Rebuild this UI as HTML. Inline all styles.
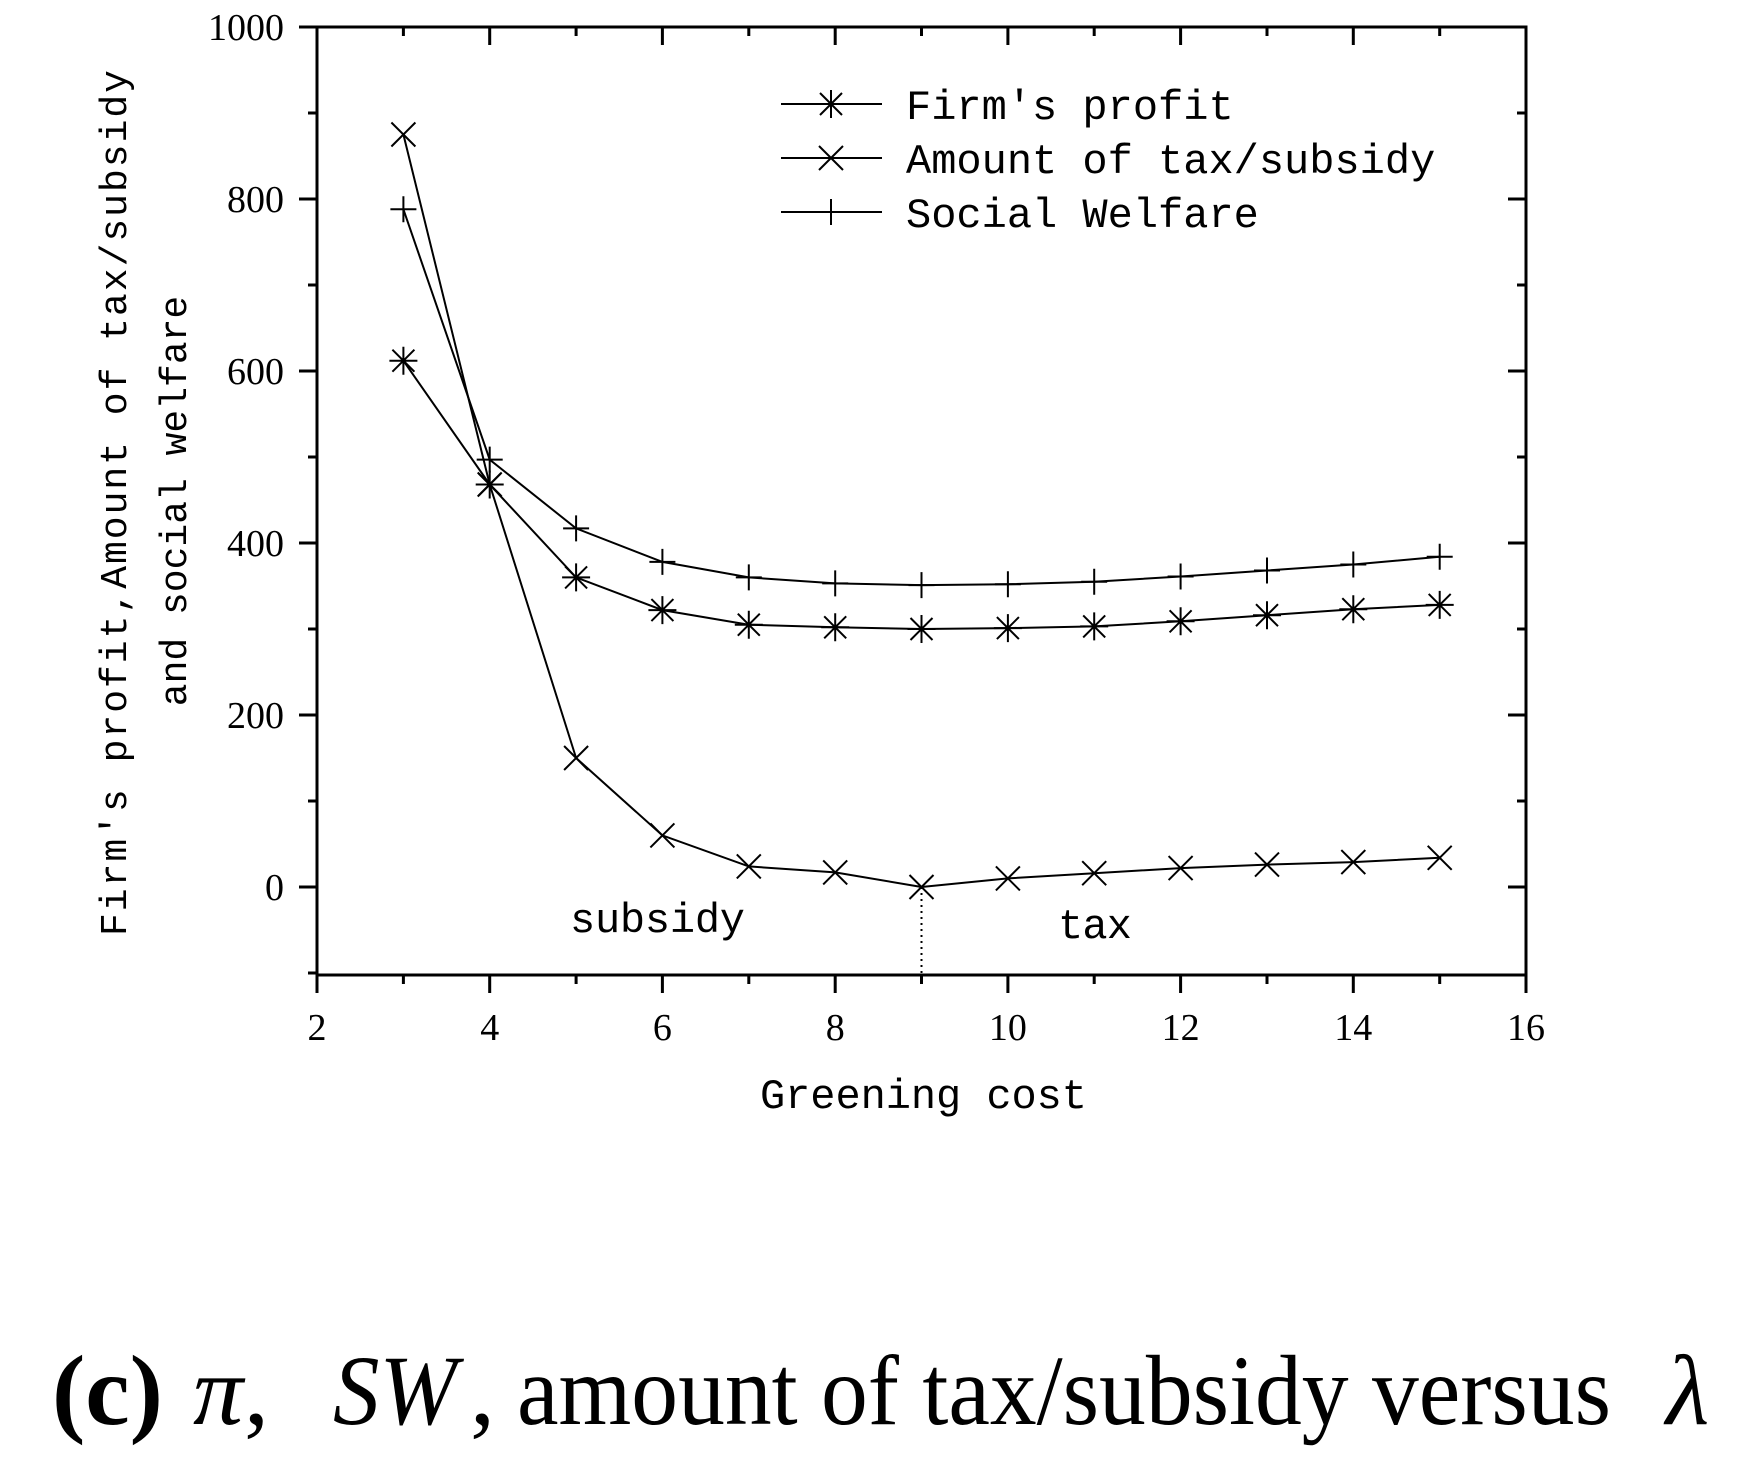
<!DOCTYPE html>
<html><head><meta charset="utf-8"><style>
html,body{margin:0;padding:0;background:#fff;}
svg{display:block;}
</style></head><body>
<svg width="1749" height="1465" viewBox="0 0 1749 1465" xmlns="http://www.w3.org/2000/svg">
<defs>
<g id="mx"><path d="M-12,-12L12,12M-12,12L12,-12" stroke="#000" stroke-width="2" fill="none"/></g>
<g id="mp"><path d="M-13,0H13M0,-13V13" stroke="#000" stroke-width="2" fill="none"/></g>
<g id="ma"><path d="M-11,-11L11,11M-11,11L11,-11M-14,0H14M0,-14V14" stroke="#000" stroke-width="2" fill="none"/></g>
</defs>
<g stroke="#000" stroke-width="3" fill="none">
<rect x="317" y="27" width="1209" height="948"/>
<path d="M317,975v18M489.7,975v18M662.4,975v18M835.2,975v18M1007.9,975v18M1180.6,975v18M1353.3,975v18M1526,975v18"/>
<path d="M403.4,975v9M576.1,975v9M748.8,975v9M921.5,975v9M1094.2,975v9M1267,975v9M1439.7,975v9"/>
<path d="M489.7,27v18M662.4,27v18M835.2,27v18M1007.9,27v18M1180.6,27v18M1353.3,27v18"/>
<path d="M403.4,27v9M576.1,27v9M748.8,27v9M921.5,27v9M1094.2,27v9M1267,27v9M1439.7,27v9"/>
<path d="M317,27h-18M317,199h-18M317,371h-18M317,543h-18M317,715h-18M317,887h-18"/>
<path d="M317,113h-9M317,285h-9M317,457h-9M317,629h-9M317,801h-9M317,973h-9"/>
<path d="M1526,199h-18M1526,371h-18M1526,543h-18M1526,715h-18M1526,887h-18"/>
<path d="M1526,113h-9M1526,285h-9M1526,457h-9M1526,629h-9M1526,801h-9"/>
</g>
<g font-family="Liberation Serif, serif" font-size="38" fill="#000">
<g text-anchor="middle">
<text x="317" y="1040">2</text><text x="489.7" y="1040">4</text><text x="662.4" y="1040">6</text><text x="835.2" y="1040">8</text><text x="1007.9" y="1040">10</text><text x="1180.6" y="1040">12</text><text x="1353.3" y="1040">14</text><text x="1526" y="1040">16</text>
</g>
<g text-anchor="end">
<text x="284" y="40">1000</text><text x="284" y="212">800</text><text x="284" y="384">600</text><text x="284" y="556">400</text><text x="284" y="728">200</text><text x="284" y="900">0</text>
</g>
</g>
<g fill="none" stroke="#000" stroke-width="2">
<polyline points="403.4,360.7 489.7,484.5 576.1,577.4 662.4,610.1 748.8,624.7 835.2,627.3 921.5,629 1007.9,628.1 1094.2,626.4 1180.6,621.3 1267,615.2 1353.3,609.2 1439.7,604.9"/>
<polyline points="403.4,134.5 489.7,484.5 576.1,758 662.4,835.4 748.8,866.4 835.2,872.4 921.5,887 1007.9,878.4 1094.2,873.2 1180.6,868.1 1267,864.6 1353.3,862.1 1439.7,857.8"/>
<polyline points="403.4,209.3 489.7,459.6 576.1,528.4 662.4,561.9 748.8,577.4 835.2,583.4 921.5,585.1 1007.9,584.3 1094.2,581.7 1180.6,576.5 1267,570.5 1353.3,564.5 1439.7,556.8"/>
<path d="M921.5,887V975" stroke-dasharray="2,4"/>
<path d="M781,104H882M781,158H882M781,212H882"/>
</g>
<use href="#ma" x="403.4" y="360.7"/><use href="#ma" x="489.7" y="484.5"/><use href="#ma" x="576.1" y="577.4"/><use href="#ma" x="662.4" y="610.1"/><use href="#ma" x="748.8" y="624.7"/><use href="#ma" x="835.2" y="627.3"/><use href="#ma" x="921.5" y="629"/><use href="#ma" x="1007.9" y="628.1"/><use href="#ma" x="1094.2" y="626.4"/><use href="#ma" x="1180.6" y="621.3"/><use href="#ma" x="1267" y="615.2"/><use href="#ma" x="1353.3" y="609.2"/><use href="#ma" x="1439.7" y="604.9"/>
<use href="#mx" x="403.4" y="134.5"/><use href="#mx" x="489.7" y="484.5"/><use href="#mx" x="576.1" y="758"/><use href="#mx" x="662.4" y="835.4"/><use href="#mx" x="748.8" y="866.4"/><use href="#mx" x="835.2" y="872.4"/><use href="#mx" x="921.5" y="887"/><use href="#mx" x="1007.9" y="878.4"/><use href="#mx" x="1094.2" y="873.2"/><use href="#mx" x="1180.6" y="868.1"/><use href="#mx" x="1267" y="864.6"/><use href="#mx" x="1353.3" y="862.1"/><use href="#mx" x="1439.7" y="857.8"/>
<use href="#mp" x="403.4" y="209.3"/><use href="#mp" x="489.7" y="459.6"/><use href="#mp" x="576.1" y="528.4"/><use href="#mp" x="662.4" y="561.9"/><use href="#mp" x="748.8" y="577.4"/><use href="#mp" x="835.2" y="583.4"/><use href="#mp" x="921.5" y="585.1"/><use href="#mp" x="1007.9" y="584.3"/><use href="#mp" x="1094.2" y="581.7"/><use href="#mp" x="1180.6" y="576.5"/><use href="#mp" x="1267" y="570.5"/><use href="#mp" x="1353.3" y="564.5"/><use href="#mp" x="1439.7" y="556.8"/>
<use href="#ma" x="831" y="104"/><use href="#mx" x="831" y="158"/><use href="#mp" x="831" y="212"/>
<g font-family="Liberation Mono, monospace" font-size="42" fill="#000">
<text x="906" y="119">Firm's profit</text>
<text x="906" y="173">Amount of tax/subsidy</text>
<text x="906" y="227">Social Welfare</text>
<text x="760" y="1108" textLength="327">Greening cost</text>
<text x="570" y="932" textLength="175">subsidy</text>
<text x="1058" y="938" textLength="74">tax</text>
</g>
<g font-family="Liberation Mono, monospace" font-size="38" fill="#000" text-anchor="middle">
<text transform="translate(126,503) rotate(-90)" textLength="866">Firm's profit,Amount of tax/subsidy</text>
<text transform="translate(186,501) rotate(-90)">and social welfare</text>
</g>
<g font-family="Liberation Serif, serif" font-size="100" fill="#000">
<text x="52" y="1424" font-weight="bold">(c)</text>
<text x="193" y="1424" font-style="italic">π</text>
<text x="244" y="1424">,</text>
<text x="333" y="1424" font-style="italic" textLength="124" lengthAdjust="spacingAndGlyphs">SW</text>
<text x="470" y="1424">,</text>
<text x="517" y="1424" textLength="1094" lengthAdjust="spacingAndGlyphs">amount of tax/subsidy versus</text>
<text x="1666" y="1424" font-style="italic">λ</text>
</g>
</svg>
</body></html>
